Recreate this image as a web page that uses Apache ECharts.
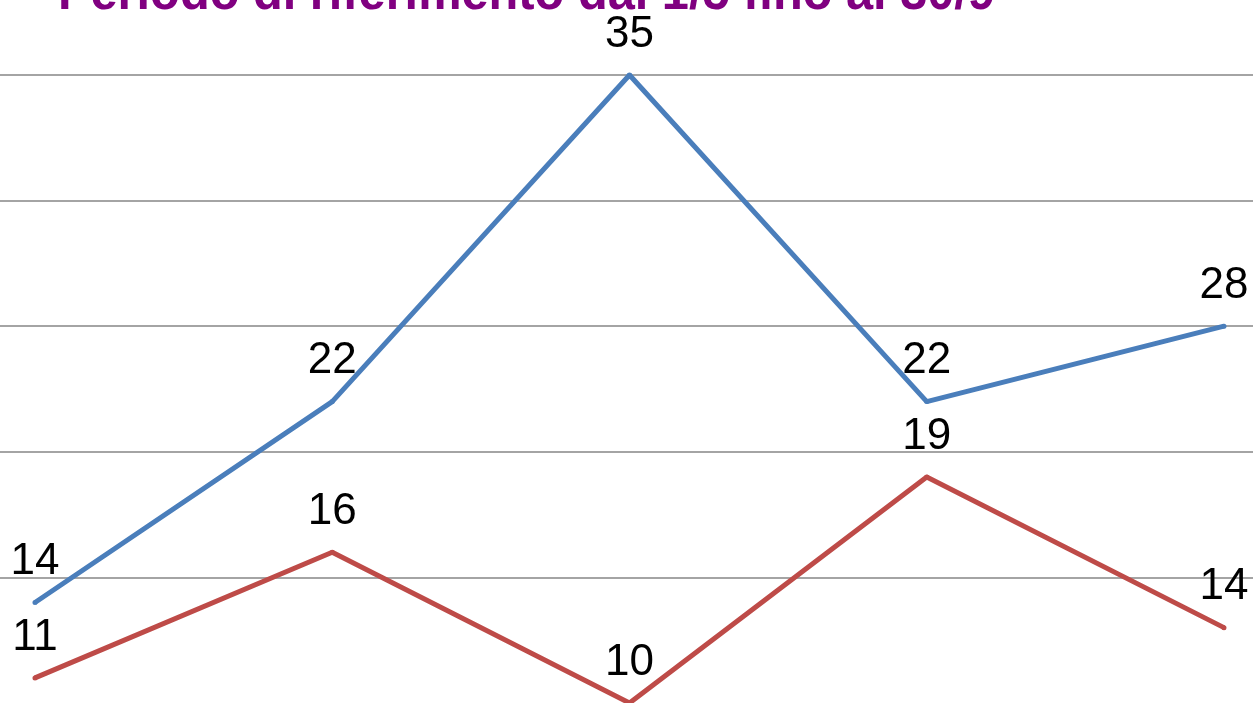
<!DOCTYPE html>
<html>
<head>
<meta charset="utf-8">
<script src="https://cdn.jsdelivr.net/npm/echarts@6/dist/echarts.min.js"></script>
<style>html,body{margin:0;padding:0;background:#fff;}#c{width:1253px;height:703px;}</style>
</head>
<body>
<div id="c"></div>
<script>
const titleText = 'Periodo di riferimento dal 1/5 fino al 30/9';
const categories = [0, 1, 2, 3, 4];
const blueValues = [14, 22, 35, 22, 25];
const blueLabels = ['14', '22', '35', '22', '28'];
const redValues = [11, 16, 10, 19, 13];
const redLabels = ['11', '16', '10', '19', '14'];
const yMin = 10, yMax = 35, yStep = 5;

const titleFont = 'bold 52px "Liberation Sans", Arial, sans-serif';
const cv = document.createElement('canvas').getContext('2d');
cv.font = titleFont;
const titleScale = 937 / cv.measureText(titleText).width;

const chart = echarts.init(document.getElementById('c'), null, {renderer: 'canvas'});
const labelStyle = (arr) => ({
  show: true, position: 'top', distance: 16,
  fontFamily: 'Liberation Sans, Arial, sans-serif', fontSize: 44, color: '#000',
  formatter: (p) => arr[p.dataIndex]
});
const pairs = (vals) => vals.map((v, i) => [categories[i], v]);
chart.setOption({
  animation: false,
  graphic: [{
    type: 'text', x: 58, y: 21, scaleX: titleScale, originX: 0,
    style: {text: titleText, font: titleFont, fill: '#800080', textVerticalAlign: 'bottom', verticalAlign: 'bottom'}
  }],
  grid: {left: 0, right: 0, top: 75, bottom: 0},
  xAxis: {
    type: 'value', min: -0.1177, max: 4.0976,
    axisLine: {show: false}, axisTick: {show: false}, axisLabel: {show: false}, splitLine: {show: false}
  },
  yAxis: {
    type: 'value', min: yMin, max: yMax, interval: yStep,
    axisLine: {show: false}, axisTick: {show: false}, axisLabel: {show: false},
    splitLine: {showMinLine: false, lineStyle: {color: '#868686', width: 1.5}}
  },
  series: [
    {type: 'line', data: pairs(blueValues), symbol: 'circle', symbolSize: 5,
     itemStyle: {color: '#4a7ebb'}, lineStyle: {color: '#4a7ebb', width: 5}, label: labelStyle(blueLabels)},
    {type: 'line', data: pairs(redValues), symbol: 'circle', symbolSize: 5,
     itemStyle: {color: '#be4b48'}, lineStyle: {color: '#be4b48', width: 5}, label: labelStyle(redLabels)}
  ]
});
</script>
</body>
</html>
